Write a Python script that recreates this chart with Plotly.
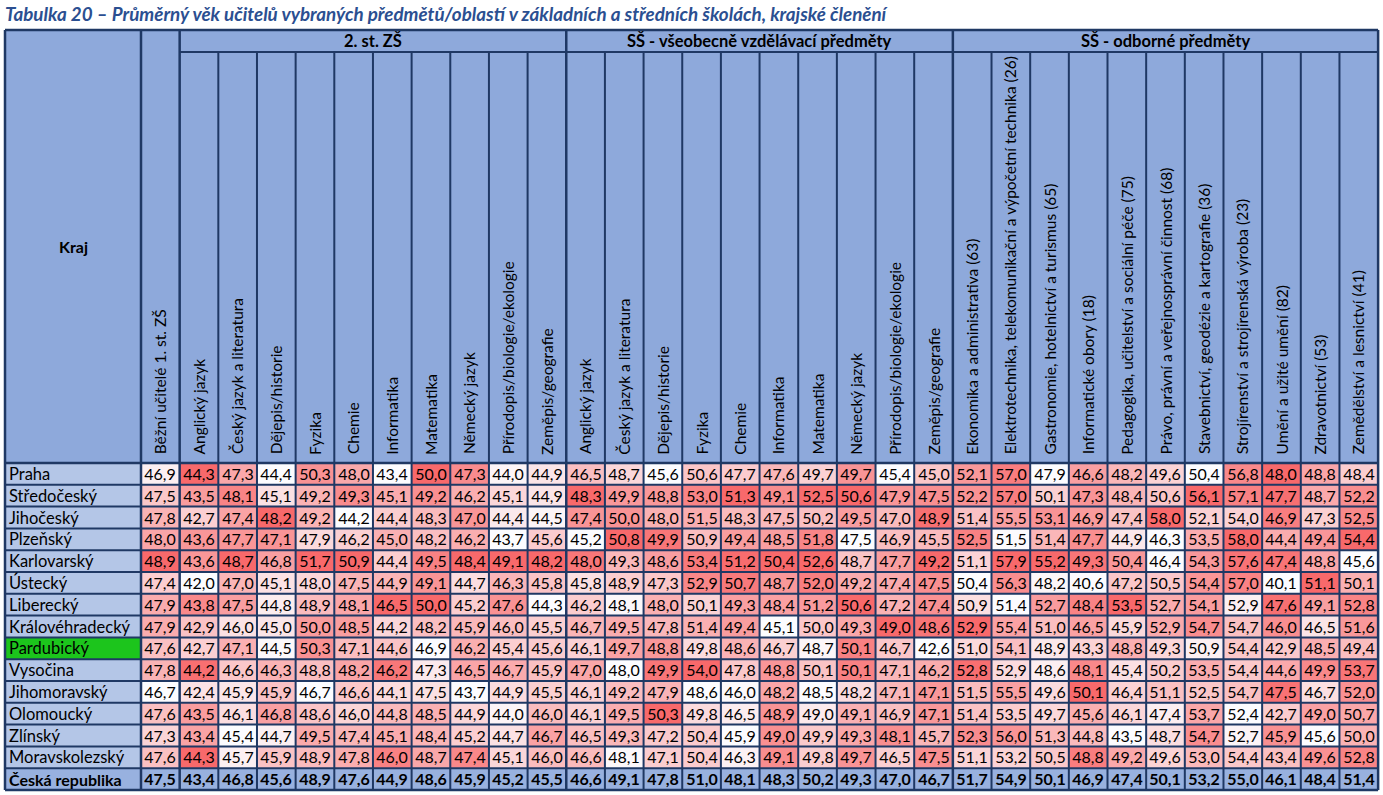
import plotly.graph_objects as go
import numpy as np

# --- data ---------------------------------------------------------------
kraje = ["Praha", "Středočeský", "Jihočeský", "Plzeňský", "Karlovarský", "Ústecký",
         "Liberecký", "Královéhradecký", "Pardubický", "Vysočina", "Jihomoravský",
         "Olomoucký", "Zlínský", "Moravskolezský"]
cr_label = "Česká republika"

bezni_label = "Běžní učitelé 1. st. ZŠ"
zs2_predmety = ["Anglický jazyk", "Český jazyk a literatura", "Dějepis/historie", "Fyzika",
                "Chemie", "Informatika", "Matematika", "Německý jazyk",
                "Přírodopis/biologie/ekologie", "Zeměpis/geografie"]
ss_vseob_predmety = list(zs2_predmety)
ss_odb_obory = ["Ekonomika a administrativa (63)",
                "Elektrotechnika, telekomunikační a výpočetní technika (26)",
                "Gastronomie, hotelnictví a turismus (65)", "Informatické obory (18)",
                "Pedagogika, učitelství a sociální péče (75)",
                "Právo, právní a veřejnosprávní činnost (68)",
                "Stavebnictví, geodézie a kartografie (36)",
                "Strojírenství a strojírenská výroba (23)", "Umění a užité umění (82)",
                "Zdravotnictví (53)", "Zemědělství a lesnictví (41)"]

bezni = [46.9, 47.5, 47.8, 48.0, 48.9, 47.4, 47.9, 47.9, 47.6, 47.8, 46.7, 47.6, 47.3, 47.6]

zs2 = [
    [44.3, 47.3, 44.4, 50.3, 48.0, 43.4, 50.0, 47.3, 44.0, 44.9],
    [43.5, 48.1, 45.1, 49.2, 49.3, 45.1, 49.2, 46.2, 45.1, 44.9],
    [42.7, 47.4, 48.2, 49.2, 44.2, 44.4, 48.3, 47.0, 44.4, 44.5],
    [43.6, 47.7, 47.1, 47.9, 46.2, 45.0, 48.2, 46.2, 43.7, 45.6],
    [43.6, 48.7, 46.8, 51.7, 50.9, 44.4, 49.5, 48.4, 49.1, 48.2],
    [42.0, 47.0, 45.1, 48.0, 47.5, 44.9, 49.1, 44.7, 46.3, 45.8],
    [43.8, 47.5, 44.8, 48.9, 48.1, 46.5, 50.0, 45.2, 47.6, 44.3],
    [42.9, 46.0, 45.0, 50.0, 48.5, 44.2, 48.2, 45.9, 46.0, 45.5],
    [42.7, 47.1, 44.5, 50.3, 47.1, 44.6, 46.9, 46.2, 45.4, 45.6],
    [44.2, 46.6, 46.3, 48.8, 48.2, 46.2, 47.3, 46.5, 46.7, 45.9],
    [42.4, 45.9, 45.9, 46.7, 46.6, 44.1, 47.5, 43.7, 44.9, 45.5],
    [43.5, 46.1, 46.8, 48.6, 46.0, 44.8, 48.5, 44.9, 44.0, 46.0],
    [43.4, 45.4, 44.7, 49.5, 47.4, 45.1, 48.4, 45.2, 44.7, 46.7],
    [44.3, 45.7, 45.9, 48.9, 47.8, 46.0, 48.7, 47.4, 45.1, 46.0],
]

ss_vseob = [
    [46.5, 48.7, 45.6, 50.6, 47.7, 47.6, 49.7, 49.7, 45.4, 45.0],
    [48.3, 49.9, 48.8, 53.0, 51.3, 49.1, 52.5, 50.6, 47.9, 47.5],
    [47.4, 50.0, 48.0, 51.5, 48.3, 47.5, 50.2, 49.5, 47.0, 48.9],
    [45.2, 50.8, 49.9, 50.9, 49.4, 48.5, 51.8, 47.5, 46.9, 45.5],
    [48.0, 49.3, 48.6, 53.4, 51.2, 50.4, 52.6, 48.7, 47.7, 49.2],
    [45.8, 48.9, 47.3, 52.9, 50.7, 48.7, 52.0, 49.2, 47.4, 47.5],
    [46.2, 48.1, 48.0, 50.1, 49.3, 48.4, 51.2, 50.6, 47.2, 47.4],
    [46.7, 49.5, 47.8, 51.4, 49.4, 45.1, 50.0, 49.3, 49.0, 48.6],
    [46.1, 49.7, 48.8, 49.8, 48.6, 46.7, 48.7, 50.1, 46.7, 42.6],
    [47.0, 48.0, 49.9, 54.0, 47.8, 48.8, 50.1, 50.1, 47.1, 46.2],
    [46.1, 49.2, 47.9, 48.6, 46.0, 48.2, 48.5, 48.2, 47.1, 47.1],
    [46.1, 49.5, 50.3, 49.8, 46.5, 48.9, 49.0, 49.1, 46.9, 47.1],
    [46.5, 49.3, 47.2, 50.4, 45.9, 49.0, 49.9, 49.3, 48.1, 45.7],
    [46.6, 48.1, 47.1, 50.4, 46.3, 49.1, 49.8, 49.7, 46.5, 47.5],
]

ss_odb = [
    [52.1, 57.0, 47.9, 46.6, 48.2, 49.6, 50.4, 56.8, 48.0, 48.8, 48.4],
    [52.2, 57.0, 50.1, 47.3, 48.4, 50.6, 56.1, 57.1, 47.7, 48.7, 52.2],
    [51.4, 55.5, 53.1, 46.9, 47.4, 58.0, 52.1, 54.0, 46.9, 47.3, 52.5],
    [52.5, 51.5, 51.4, 47.7, 44.9, 46.3, 53.5, 58.0, 44.4, 49.4, 54.4],
    [51.1, 57.9, 55.2, 49.3, 50.4, 46.4, 54.3, 57.6, 47.4, 48.8, 45.6],
    [50.4, 56.3, 48.2, 40.6, 47.2, 50.5, 54.4, 57.0, 40.1, 51.1, 50.1],
    [50.9, 51.4, 52.7, 48.4, 53.5, 52.7, 54.1, 52.9, 47.6, 49.1, 52.8],
    [52.9, 55.4, 51.0, 46.5, 45.9, 52.9, 54.7, 54.7, 46.0, 46.5, 51.6],
    [51.0, 54.1, 48.9, 43.3, 48.8, 49.3, 50.9, 54.4, 42.9, 48.5, 49.4],
    [52.8, 52.9, 48.6, 48.1, 45.4, 50.2, 53.5, 54.4, 44.6, 49.9, 53.7],
    [51.5, 55.5, 49.6, 50.1, 46.4, 51.1, 52.5, 54.7, 47.5, 46.7, 52.0],
    [51.4, 53.5, 49.7, 45.6, 46.1, 47.4, 53.7, 52.4, 42.7, 49.0, 50.7],
    [52.3, 56.0, 51.3, 44.8, 43.5, 48.7, 54.7, 52.7, 45.9, 45.6, 50.0],
    [51.1, 53.2, 50.5, 48.8, 49.2, 49.6, 53.0, 54.4, 43.4, 49.6, 52.8],
]

cr_bezni = [47.5]
cr_zs2 = [43.4, 46.8, 45.6, 48.9, 47.6, 44.9, 48.6, 45.9, 45.2, 45.5]
cr_ss_vseob = [46.6, 49.1, 47.8, 51.0, 48.1, 48.3, 50.2, 49.3, 47.0, 46.7]
cr_ss_odb = [51.7, 54.9, 50.1, 46.9, 47.4, 50.1, 53.2, 55.0, 46.1, 48.4, 51.4]

skupiny = ["2. st. ZŠ", "SŠ - všeobecně vzdělávací předměty", "SŠ - odborné předměty"]

title = "Tabulka 20 – Průměrný věk učitelů vybraných předmětů/oblastí v základních a středních školách, krajské členění"

# --- layout constants (cell units: column = 1, row = 1) ---------------
FONT = "Lato"
COL_PX, ROW_PX = 38.66, 21.8
X0_PX, Y0_PX = 141, 463          # pixel position of first data cell
W, H = 1383, 795
KRAJ_LEFT = (5 - X0_PX) / COL_PX
HEAD_TOP = (30 - Y0_PX) / ROW_PX
GROUP_BOTTOM = (52 - Y0_PX) / ROW_PX
NAVY = "#1F3864"
HEAD_BG = "#8EA9DB"
KRAJ_BG = "#B4C6E7"
CR_BG = "#98B1DF"
GREEN = "#1CC51C"


def fmt(v):
    return f"{v:.1f}".replace(".", ",")


values = np.hstack([np.array(bezni)[:, None], np.array(zs2), np.array(ss_vseob), np.array(ss_odb)])
cr_values = np.array(cr_bezni + cr_zs2 + cr_ss_vseob + cr_ss_odb)
labels = [bezni_label] + zs2_predmety + ss_vseob_predmety + ss_odb_obory
n_rows, n_cols = values.shape

# excel-like colour scale per column: min -> white, max -> red
cmin = values.min(axis=0)
cmax = values.max(axis=0)
z_norm = (values - cmin) / (cmax - cmin)

fig = go.Figure()

fig.add_trace(go.Heatmap(
    z=z_norm, x=list(range(n_cols + 1)), y=list(range(n_rows + 1)),
    text=[[fmt(v) for v in row] for row in values], texttemplate="%{text}",
    textfont=dict(family=FONT, size=16, color="black"),
    colorscale=[[0, "#FCFCFF"], [1, "#F8696B"]], zmin=0, zmax=1,
    showscale=False, hoverinfo="skip"))

fig.add_trace(go.Heatmap(
    z=[[0] * n_cols], x=list(range(n_cols + 1)), y=[n_rows, n_rows + 1],
    text=[["<b>" + fmt(v) + "</b>" for v in cr_values]], texttemplate="%{text}",
    textfont=dict(family=FONT, size=16, color="black"),
    colorscale=[[0, CR_BG], [1, CR_BG]], showscale=False, hoverinfo="skip"))

kraj_z = [[1 if k == "Pardubický" else 0] for k in kraje] + [[2]]
fig.add_trace(go.Heatmap(
    z=kraj_z, x=[KRAJ_LEFT, 0], y=list(range(n_rows + 2)),
    colorscale=[[0, KRAJ_BG], [0.33, KRAJ_BG], [0.34, GREEN], [0.66, GREEN],
                [0.67, CR_BG], [1, CR_BG]],
    zmin=0, zmax=2, showscale=False, hoverinfo="skip"))

ann = []
for i, k in enumerate(kraje + [cr_label]):
    ann.append(dict(x=KRAJ_LEFT + 0.06, y=i + 0.5, text=("<b>%s</b>" % k) if k == cr_label else k,
                    xanchor="left", yanchor="middle", showarrow=False,
                    font=dict(family=FONT, size=16.5 if k != cr_label else 16, color="black")))

for j, lab in enumerate(labels):
    ann.append(dict(x=j + 0.5, y=-0.3, text=lab, textangle=-90, xanchor="center",
                    yanchor="bottom", showarrow=False,
                    font=dict(family=FONT, size=15.5, color="black")))

starts = [1, 1 + len(zs2_predmety), 1 + len(zs2_predmety) + len(ss_vseob_predmety)]
ends = starts[1:] + [n_cols]
for s, e, g in zip(starts, ends, skupiny):
    ann.append(dict(x=(s + e) / 2, y=(HEAD_TOP + GROUP_BOTTOM) / 2, text="<b>%s</b>" % g,
                    xanchor="center", yanchor="middle", showarrow=False,
                    font=dict(family=FONT, size=16.5, color="black")))

ann.append(dict(x=KRAJ_LEFT / 2, y=HEAD_TOP / 2, text="<b>Kraj</b>", showarrow=False,
                font=dict(family=FONT, size=16, color="black")))
ann.append(dict(x=KRAJ_LEFT - 0.05, y=(13 - Y0_PX) / ROW_PX, text="<b><i>%s</i></b>" % title,
                xanchor="left", yanchor="middle", showarrow=False,
                font=dict(family=FONT, size=18.8, color="#2B4F91")))

# header background and grid
shapes = [dict(type="rect", x0=KRAJ_LEFT, x1=n_cols, y0=HEAD_TOP, y1=0,
               fillcolor=HEAD_BG, line_width=0, layer="below")]
full = [KRAJ_LEFT, 0] + starts + [n_cols]
for xv in range(1, n_cols):
    if xv not in full:
        shapes.append(dict(type="line", x0=xv, x1=xv, y0=GROUP_BOTTOM, y1=n_rows + 1,
                           line=dict(color=NAVY, width=2)))
for xv in full:
    shapes.append(dict(type="line", x0=xv, x1=xv, y0=HEAD_TOP, y1=n_rows + 1,
                       line=dict(color=NAVY, width=2.5)))
shapes.append(dict(type="line", x0=KRAJ_LEFT, x1=n_cols, y0=HEAD_TOP, y1=HEAD_TOP,
                   line=dict(color=NAVY, width=2.5)))
shapes.append(dict(type="line", x0=1, x1=n_cols, y0=GROUP_BOTTOM, y1=GROUP_BOTTOM,
                   line=dict(color=NAVY, width=2)))
for yv in range(n_rows + 2):
    shapes.append(dict(type="line", x0=KRAJ_LEFT, x1=n_cols, y0=yv, y1=yv,
                       line=dict(color=NAVY, width=2.5 if yv in (0, n_rows + 1) else 2)))

fig.update_layout(
    width=W, height=H, margin=dict(l=0, r=0, t=0, b=0),
    paper_bgcolor="white", plot_bgcolor="white",
    xaxis=dict(range=[-X0_PX / COL_PX, (W - X0_PX) / COL_PX], visible=False, fixedrange=True),
    yaxis=dict(range=[(H - Y0_PX) / ROW_PX, -Y0_PX / ROW_PX], visible=False, fixedrange=True),
    annotations=ann, shapes=shapes, showlegend=False,
)

# the page body has a default 8px margin; drop it so the figure fills the window
fig.write_html("out.html", config={"displayModeBar": False},
               post_script="document.body.style.margin='0px';")
